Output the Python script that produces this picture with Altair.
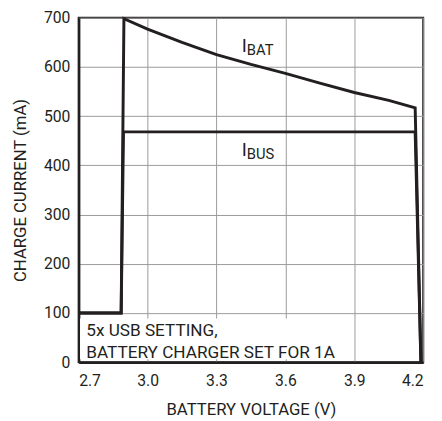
import altair as alt
import pandas as pd

FONT = "Roboto, Arial"
INK = "#231f20"

# IBAT curve
ibat_v = [2.70, 2.885, 2.897, 3.00, 3.15, 3.30, 3.45, 3.60, 3.75, 3.90, 4.05, 4.165, 4.19]
ibat_i = [100, 100, 698, 677, 650, 625, 605, 587, 567, 548, 532, 517, 0]
# IBUS curve
ibus_v = [2.70, 2.885, 2.895, 4.165, 4.19]
ibus_i = [100, 100, 468, 468, 0]

x_ticks = [2.7, 3.0, 3.3, 3.6, 3.9, 4.2]
y_ticks = [0, 100, 200, 300, 400, 500, 600, 700]

rows = []
for k, (v, i) in enumerate(zip(ibat_v, ibat_i)):
    rows.append({"series": "IBAT", "order": k, "v": v, "i": i})
for k, (v, i) in enumerate(zip(ibus_v, ibus_i)):
    rows.append({"series": "IBUS", "order": k, "v": v, "i": i})
df = pd.DataFrame(rows)

xs = alt.Scale(domain=[2.7, 4.2], nice=False, zero=False)
ys = alt.Scale(domain=[0, 700], nice=False)

base_x = alt.X("v:Q", scale=xs, axis=alt.Axis(
    values=x_ticks, format=".1f", title="BATTERY VOLTAGE (V)",
    grid=True, gridColor="#9a9a9a", gridWidth=1,
    tickSize=0, labelPadding=11, titlePadding=13,
    domain=True, domainColor=INK, domainWidth=2.5,
    labelFont=FONT, labelFontSize=16, labelColor=INK,
    titleFont=FONT, titleFontSize=17, titleFontWeight="normal", titleColor=INK))
base_y = alt.Y("i:Q", scale=ys, axis=alt.Axis(
    values=y_ticks, title="CHARGE CURRENT (mA)",
    grid=True, gridColor="#9a9a9a", gridWidth=1,
    tickSize=0, labelPadding=9, titlePadding=14,
    domain=True, domainColor=INK, domainWidth=2.5,
    labelFont=FONT, labelFontSize=16, labelColor=INK,
    titleFont=FONT, titleFontSize=17, titleFontWeight="normal", titleColor=INK))

lines = alt.Chart(df).mark_line(color=INK, strokeWidth=3, strokeJoin="miter").encode(
    x=base_x, y=base_y, detail="series:N", order="order:Q")

box_df = pd.DataFrame([{"x1": 2.706, "x2": 3.86, "y1": 6, "y2": 89}])
box = alt.Chart(box_df).mark_rect(color="white").encode(
    x=alt.X("x1:Q", scale=xs), x2="x2", y=alt.Y("y1:Q", scale=ys), y2="y2")

note_lines = ["5x USB SETTING,", "BATTERY CHARGER SET FOR 1A"]
note_y = [53, 8]
note_df = pd.DataFrame({"t": note_lines, "v": [2.733, 2.733], "i": note_y})
note = alt.Chart(note_df).mark_text(align="left", baseline="alphabetic", font=FONT,
                                    fontSize=17.5, color=INK).encode(
    x=alt.X("v:Q", scale=xs), y=alt.Y("i:Q", scale=ys), text="t:N")

main_lbl = pd.DataFrame({"t": ["I", "I"], "v": [3.41, 3.41], "i": [631, 419]})
sub_lbl = pd.DataFrame({"t": ["BAT", "BUS"], "v": [3.432, 3.432], "i": [625, 413]})
lbl1 = alt.Chart(main_lbl).mark_text(align="left", baseline="alphabetic", font=FONT,
                                     fontSize=19, color=INK).encode(
    x=alt.X("v:Q", scale=xs), y=alt.Y("i:Q", scale=ys), text="t:N")
lbl2 = alt.Chart(sub_lbl).mark_text(align="left", baseline="alphabetic", font=FONT,
                                    fontSize=15, color=INK).encode(
    x=alt.X("v:Q", scale=xs), y=alt.Y("i:Q", scale=ys), text="t:N")

chart = alt.layer(lines, box, note, lbl1, lbl2).properties(
    width=351, height=351,
    autosize=alt.AutoSizeParams(type="none"),
    padding={"left": 72, "top": 6, "right": 11, "bottom": 56},
).configure_view(stroke=INK, strokeWidth=2)

chart.save("out.html", embed_options={"renderer": "svg", "actions": False})
